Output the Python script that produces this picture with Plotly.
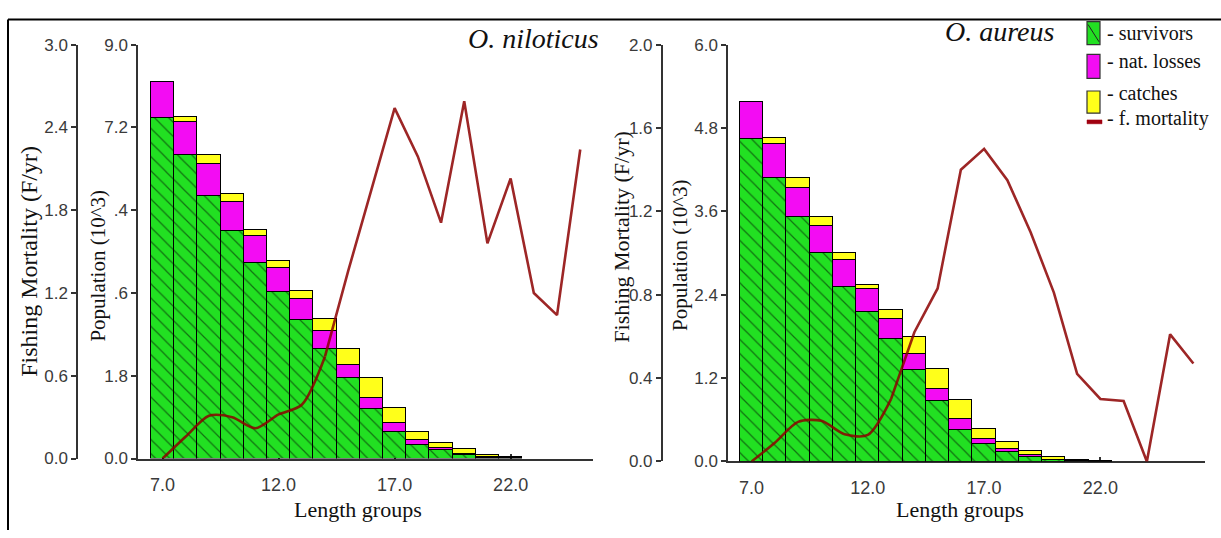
import plotly.graph_objects as go

W, H = 1221, 538

# ---------------- data ----------------
lengths = list(range(7, 23))  # length-group centres with bars

nil_survivors = [7.41, 6.61, 5.72, 4.95, 4.27, 3.62, 3.01, 2.38, 1.75, 1.09, 0.58, 0.30, 0.20, 0.08, 0.02, 0.01]
nil_nat_losses = [0.79, 0.72, 0.70, 0.63, 0.58, 0.53, 0.47, 0.40, 0.30, 0.24, 0.19, 0.10, 0.04, 0.03, 0.01, 0.005]
nil_catches = [0.0, 0.10, 0.19, 0.18, 0.12, 0.15, 0.16, 0.26, 0.33, 0.42, 0.33, 0.18, 0.10, 0.10, 0.05, 0.02]

nil_f_len = list(range(7, 26))
nil_f_mort = [0.0, 0.16, 0.31, 0.30, 0.22, 0.32, 0.39, 0.74, 1.36, 1.95, 2.54, 2.19, 1.71, 2.59, 1.56, 2.03, 1.20, 1.04, 2.24]

aur_survivors = [4.64, 4.08, 3.52, 3.00, 2.52, 2.16, 1.77, 1.32, 0.88, 0.46, 0.25, 0.14, 0.07, 0.02, 0.005, 0.002]
aur_nat_losses = [0.54, 0.49, 0.42, 0.40, 0.39, 0.32, 0.29, 0.23, 0.17, 0.15, 0.08, 0.04, 0.02, 0.01, 0.005, 0.002]
aur_catches = [0.0, 0.09, 0.14, 0.13, 0.09, 0.07, 0.12, 0.24, 0.28, 0.28, 0.14, 0.10, 0.07, 0.04, 0.02, 0.01]

aur_f_len = list(range(7, 27))
aur_f_mort = [0.0, 0.09, 0.19, 0.195, 0.13, 0.127, 0.30, 0.62, 0.83, 1.40, 1.50, 1.35, 1.10, 0.81, 0.42, 0.30, 0.29, 0.0, 0.61, 0.47]

x_ticks = [7, 12, 17, 22]
x_ticktext = ["7.0", "12.0", "17.0", "22.0"]
nil_pop_ticks = [0, 1.8, 3.6, 5.4, 7.2, 9.0]
nil_f_ticks = [0, 0.6, 1.2, 1.8, 2.4, 3.0]
aur_pop_ticks = [0, 1.2, 2.4, 3.6, 4.8, 6.0]
aur_f_ticks = [0, 0.4, 0.8, 1.2, 1.6, 2.0]

GREEN = "#22e022"
MAGENTA = "#f30cf3"
YELLOW = "#ffff1a"
LINE = "rgba(140,0,0,0.85)"
TICKFONT = dict(family="Liberation Sans Narrow, Arial Narrow, Liberation Sans, Arial", size=17, color="#3a3a3a")
SERIF = "Liberation Serif, Times New Roman, serif"


def px(x):
    return x / W


def py(y):
    return 1 - y / H


fig = go.Figure()


def add_panel(xa, ya_pop, ya_f, surv, nat, catch, flen, fm, n_smooth):
    fig.add_trace(go.Bar(x=lengths, y=surv, width=1, xaxis=xa, yaxis=ya_pop, showlegend=False,
                         marker=dict(color=GREEN, line=dict(color="black", width=1),
                                     pattern=dict(shape="\\", fgcolor="black", bgcolor=GREEN,
                                                  size=10, solidity=0.12))))
    fig.add_trace(go.Bar(x=lengths, y=nat, width=1, xaxis=xa, yaxis=ya_pop, showlegend=False,
                         marker=dict(color=MAGENTA, line=dict(color="black", width=1))))
    fig.add_trace(go.Bar(x=lengths, y=catch, width=1, xaxis=xa, yaxis=ya_pop, showlegend=False,
                         marker=dict(color=YELLOW, line=dict(color="black", width=1))))
    fig.add_trace(go.Scatter(x=flen[:n_smooth], y=fm[:n_smooth], mode="lines", xaxis=xa, yaxis=ya_f,
                             showlegend=False, line=dict(color=LINE, width=2.6, shape="spline", smoothing=0.8)))
    fig.add_trace(go.Scatter(x=flen[n_smooth - 1:], y=fm[n_smooth - 1:], mode="lines", xaxis=xa, yaxis=ya_f,
                             showlegend=False, line=dict(color=LINE, width=2.6)))


add_panel("x", "y", "y2", nil_survivors, nil_nat_losses, nil_catches, nil_f_len, nil_f_mort, 8)
add_panel("x2", "y3", "y4", aur_survivors, aur_nat_losses, aur_catches, aur_f_len, aur_f_mort, 7)

axis_common = dict(showgrid=False, zeroline=False, showline=True, linecolor="#333", linewidth=1.5,
                   tickcolor="#333", tickwidth=1.5, tickfont=TICKFONT)

fig.update_layout(
    width=W, height=H, margin=dict(l=0, r=0, t=0, b=0),
    paper_bgcolor="white", plot_bgcolor="rgba(0,0,0,0)",
    barmode="stack", bargap=0,
    xaxis=dict(domain=[px(138), px(593)], range=[5.94, 25.55], anchor="y", ticks="inside", ticklen=5,
               tickvals=x_ticks, ticktext=x_ticktext, ticklabelstandoff=9, layer="below traces",
               **{**axis_common, "tickfont": dict(TICKFONT, size=18)}),
    yaxis=dict(domain=[py(466), py(37)], range=[0, 9], anchor="x", ticks="outside", ticklen=5,
               tickvals=nil_pop_ticks, ticktext=[f"{v:.1f}" for v in nil_pop_ticks], **axis_common),
    yaxis2=dict(overlaying="y", anchor="free", position=px(77), side="left", range=[0, 3],
                ticks="outside", ticklen=5, tickvals=nil_f_ticks,
                ticktext=[f"{v:.1f}" for v in nil_f_ticks], **axis_common),
    xaxis2=dict(domain=[px(728), px(1205)], range=[5.985, 26.5], anchor="y3", ticks="inside", ticklen=5,
                tickvals=x_ticks, ticktext=x_ticktext, ticklabelstandoff=9, layer="below traces",
                **{**axis_common, "tickfont": dict(TICKFONT, size=18)}),
    yaxis3=dict(domain=[py(469), py(37)], range=[0, 6], anchor="x2", ticks="outside", ticklen=5,
                tickvals=aur_pop_ticks, ticktext=[f"{v:.1f}" for v in aur_pop_ticks], **axis_common),
    yaxis4=dict(overlaying="y3", anchor="free", position=px(661.7), side="left", range=[0, 2],
                ticks="outside", ticklen=5, tickvals=aur_f_ticks,
                ticktext=[f"{v:.1f}" for v in aur_f_ticks], **axis_common),
)

ann = []


def text(x, y, s, size, rot=0, italic=False, bg=None, pad=1, color="#111", xanchor="center"):
    d = dict(x=px(x), y=py(y), xref="paper", yref="paper", text=s, showarrow=False,
             textangle=rot, xanchor=xanchor, yanchor="middle",
             font=dict(family=SERIF, size=size, color=color, style="italic" if italic else "normal"))
    if bg:
        d["bgcolor"] = bg
        d["borderpad"] = pad
    ann.append(d)


# axis titles
text(29, 262, "Fishing Mortality (F/yr)", 24, rot=-90)
text(98, 266, "Population (10^3)", 21, rot=-90, bg="white", pad=3)
text(622, 237, "Fishing Mortality (F/yr)", 22, rot=-90)
text(680, 255, "Population (10^3)", 21, rot=-90)
text(358, 519, "Length groups", 22)
text(960, 519, "Length groups", 22)
# species titles
text(533, 31, "O. niloticus", 28, italic=True)
text(1000, 23, "O. aureus", 28, italic=True)

# legend
legend_items = ["- survivors", "- nat. losses", "- catches", "- f. mortality"]
legend_y = [25, 54, 87, 114]
for s, yy in zip(legend_items, legend_y):
    text(1105, yy, s, 20, xanchor="left", color="#111")
fig.update_layout(annotations=ann)

shapes = []


def rect(x0, y0, x1, y1, fill, line="#333", lw=1.2):
    shapes.append(dict(type="rect", xref="paper", yref="paper", x0=px(x0), x1=px(x1), y0=py(y1), y1=py(y0),
                       fillcolor=fill, line=dict(color=line, width=lw), layer="above"))


rect(1087, 13, 1100, 37, GREEN)
shapes.append(dict(type="line", xref="paper", yref="paper", x0=px(1088), y0=py(16), x1=px(1099), y1=py(34),
                   line=dict(color="#222", width=1)))
rect(1087, 47, 1100, 72, MAGENTA)
rect(1087, 85, 1100, 108, YELLOW)
rect(1087, 115, 1102, 119, "#a00010", line="#a00010", lw=0.5)

# outer frame (left and top border)
shapes.append(dict(type="line", xref="paper", yref="paper", x0=px(8), y0=py(11), x1=px(1221), y1=py(11),
                   line=dict(color="black", width=2)))
shapes.append(dict(type="line", xref="paper", yref="paper", x0=px(8), y0=py(11), x1=px(8), y1=py(540),
                   line=dict(color="black", width=2)))
fig.update_layout(shapes=shapes)

fig.write_html("out.html", config={"displayModeBar": False},
               post_script="document.body.style.margin='0';document.body.style.overflow='hidden';")
